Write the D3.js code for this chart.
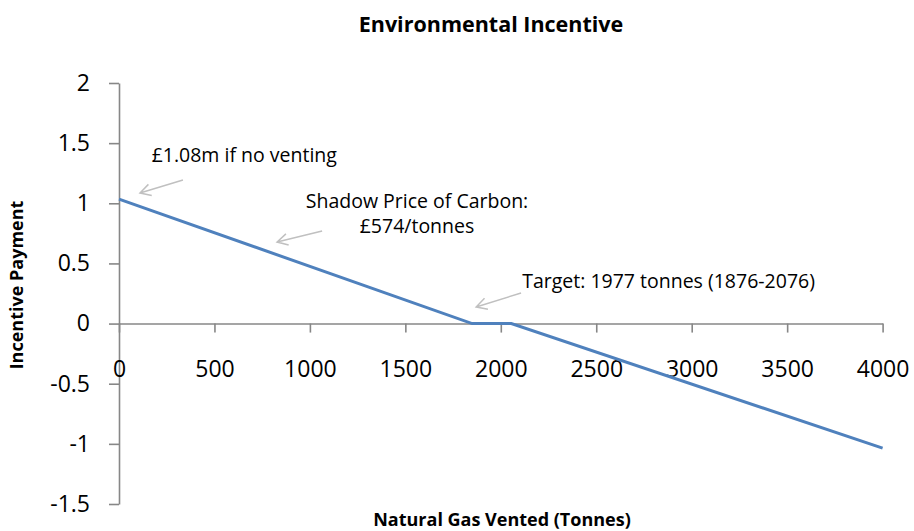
<!DOCTYPE html>
<html>
<head>
<meta charset="utf-8">
<script src="https://cdn.jsdelivr.net/npm/d3@7"></script>
<style>
  body { margin: 0; background: #fff; }
  svg { font-family: "Open Sans", "Noto Sans", sans-serif; }
  .axis path, .axis line { stroke: #878787; stroke-width: 1.6; }
  .axis text { font-family: "Open Sans", "Noto Sans", sans-serif; font-size: 23px; fill: #000; }
</style>
</head>
<body>
<svg width="914" height="531"></svg>
<script>
// values
const ventedTonnes = [0, 1850, 2055, 4000];
const incentivePayment = [1.035, 0, 0, -1.035];
const xTicks = [0, 500, 1000, 1500, 2000, 2500, 3000, 3500, 4000];
const yTicks = [-1.5, -1, -0.5, 0, 0.5, 1, 1.5, 2];

const svg = d3.select('svg');

const x = d3.scaleLinear().domain([0, 4000]).range([119, 882.6]);
const y = d3.scaleLinear().domain([-1.5, 2]).range([504, 83]);

// title
svg.append('text')
    .attr('x', 491).attr('y', 32)
    .attr('text-anchor', 'middle')
    .style('font-size', '21.5px').style('font-weight', 'bold')
    .text('Environmental Incentive');

// y axis
svg.append('g')
    .attr('class', 'axis')
    .attr('transform', `translate(${x(0)},0)`)
    .call(d3.axisLeft(y).tickValues(yTicks).tickFormat(d => d).tickSize(10).tickSizeOuter(0).tickPadding(19));

// x axis sits on zero
svg.append('g')
    .attr('class', 'axis')
    .attr('transform', `translate(0,${y(0)})`)
    .call(d3.axisBottom(x).tickValues(xTicks).tickFormat(d => d).tickSize(9).tickSizeOuter(0).tickPadding(28));

// axis titles
svg.append('text')
    .attr('transform', `translate(23,285) rotate(-90)`)
    .attr('text-anchor', 'middle')
    .style('font-size', '18px').style('font-weight', 'bold')
    .text('Incentive Payment');

svg.append('text')
    .attr('x', 502).attr('y', 526)
    .attr('text-anchor', 'middle')
    .style('font-size', '18px').style('font-weight', 'bold')
    .text('Natural Gas Vented (Tonnes)');

// the line
const pts = ventedTonnes.map((v, i) => [v, incentivePayment[i]]);
svg.append('path')
    .datum(pts)
    .attr('fill', 'none')
    .attr('stroke', '#4f81bd')
    .attr('stroke-width', 3)
    .attr('d', d3.line().x(d => x(d[0])).y(d => y(d[1])));

// annotations, placed in data units
const notes = [
    { lines: ['£1.08m if no venting'], tx: 171, ty: 1.343, anchor: 'start', from: [335, 1.194], to: [110, 1.086] },
    { lines: ['Shadow Price of Carbon:', '£574/tonnes'], tx: 1561, ty: 0.96, anchor: 'middle', from: [1064, 0.77], to: [828, 0.678] },
    { lines: ['Target: 1977 tonnes (1876-2076)'], tx: 2112, ty: 0.296, anchor: 'start', from: [2106, 0.254], to: [1871, 0.138] }
];

notes.forEach(n => {
    const t = svg.append('text')
        .attr('x', x(n.tx)).attr('y', y(n.ty))
        .attr('text-anchor', n.anchor)
        .style('font-size', '19.5px');
    n.lines.forEach((l, i) => {
        t.append('tspan').attr('x', x(n.tx)).attr('dy', i ? 25 : 0).text(l);
    });

    const x1 = x(n.from[0]), y1 = y(n.from[1]);
    const x2 = x(n.to[0]), y2 = y(n.to[1]);
    const ang = Math.atan2(y2 - y1, x2 - x1);
    const h = 12, spread = 0.5;
    svg.append('path')
        .attr('fill', 'none')
        .attr('stroke', '#c0c0c0')
        .attr('stroke-width', 1.5)
        .attr('d', `M${x1},${y1}L${x2},${y2}` +
            `M${x2 - h * Math.cos(ang - spread)},${y2 - h * Math.sin(ang - spread)}L${x2},${y2}` +
            `L${x2 - h * Math.cos(ang + spread)},${y2 - h * Math.sin(ang + spread)}`);
});
</script>
</body>
</html>
